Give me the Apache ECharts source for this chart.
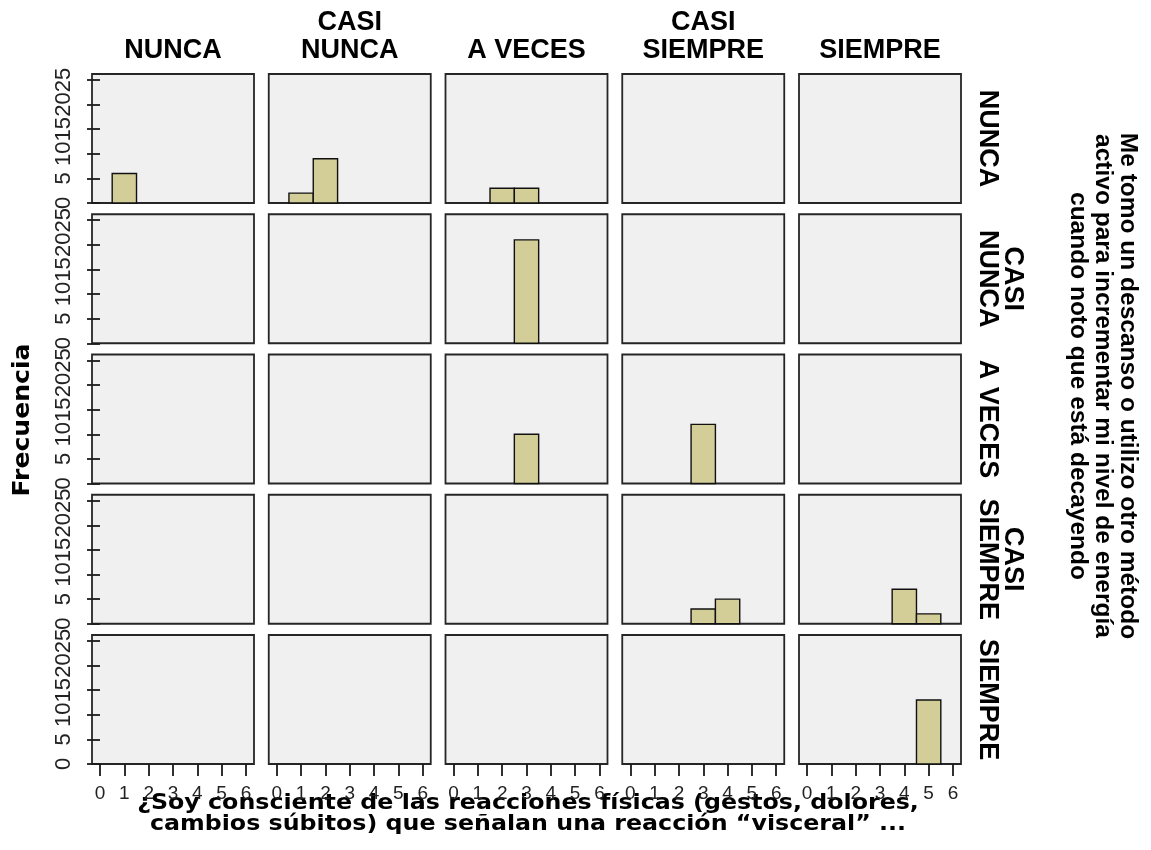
<!DOCTYPE html>
<html>
<head>
<meta charset="utf-8">
<script src="https://cdn.jsdelivr.net/npm/echarts@6/dist/echarts.min.js"></script>
<style>
  html, body { margin: 0; padding: 0; background: #fff; }
  #chart { width: 1151px; height: 850px; }
</style>
</head>
<body>
<div id="chart"></div>
<script>
// Facet categories (columns = ¿Soy consciente...?, rows = Me tomo un descanso...)
const columnLabels = ['NUNCA', 'CASI\nNUNCA', 'A VECES', 'CASI\nSIEMPRE', 'SIEMPRE'];
const rowLabels = ['NUNCA', 'CASI\nNUNCA', 'A VECES', 'CASI\nSIEMPRE', 'SIEMPRE'];

// Tick values of each panel
const xTicks = [0, 1, 2, 3, 4, 5, 6];
const yTicks = [0, 5, 10, 15, 20, 25];

// Histogram counts per row, one list of [score, frequency] per column
const rowNunca = [[[1, 6]], [[1, 2], [2, 9]], [[2, 3], [3, 3]], [], []];
const rowCasiNunca = [[], [], [[3, 21]], [], []];
const rowAVeces = [[], [], [[3, 10]], [[3, 12]], []];
const rowCasiSiempre = [[], [], [], [[3, 3], [4, 5]], [[4, 7], [5, 2]]];
const rowSiempre = [[], [], [], [], [[5, 13]]];

const yAxisName = 'Frecuencia';
const xAxisTitle = ['¿Soy consciente de las reacciones físicas (gestos, dolores,',
                    'cambios súbitos) que señalan una reacción “visceral” ...'];
const rowTitle = ['Me tomo un descanso o utilizo otro método',
                  'activo para incrementar mi nivel de energía',
                  'cuando noto que está decayendo'];

const panelRows = [rowNunca, rowCasiNunca, rowAVeces, rowCasiSiempre, rowSiempre];

// Layout of the 5x5 panel matrix
const LEFT = 92, TOP = 74, PW = 162, PH = 129, DX = 176.75, DY = 140.25;
const BAR_FILL = '#d3ce97';
const INK = '#1a1a1a';
const SANS = '"Liberation Sans", Arial, sans-serif';

const grids = [], xAxes = [], yAxes = [], series = [];
panelRows.forEach((row, r) => {
  row.forEach((cells, c) => {
    const idx = grids.length;
    const isBottom = r === panelRows.length - 1;
    const isLeft = c === 0;
    grids.push({
      left: LEFT + c * DX, top: TOP + r * DY, width: PW, height: PH,
      show: true, backgroundColor: '#f0f0f0',
      borderColor: '#262626', borderWidth: 1.8
    });
    xAxes.push({
      type: 'value', gridIndex: idx, min: -0.33, max: 6.33,
      axisLine: { show: false },
      splitLine: { show: false },
      axisTick: { show: isBottom, length: 12, inside: false,
        customValues: xTicks, lineStyle: { color: INK, width: 1.8 } },
      axisLabel: { show: isBottom, customValues: xTicks, margin: 20,
        color: '#222', fontFamily: SANS, fontSize: 19 }
    });
    yAxes.push({
      type: 'value', gridIndex: idx, min: 0, max: 26.2,
      axisLine: { show: false },
      splitLine: { show: false },
      axisTick: { show: isLeft, length: 13, inside: false,
        customValues: yTicks, lineStyle: { color: INK, width: 1.8 } },
      axisLabel: { show: isLeft, customValues: yTicks, margin: 17, rotate: 90,
        color: '#222', fontFamily: SANS, fontSize: 22 }
    });
    series.push({
      type: 'custom', xAxisIndex: idx, yAxisIndex: idx,
      data: cells,
      encode: { x: 0, y: 1 },
      renderItem: function (params, api) {
        const x = api.value(0), v = api.value(1);
        const p0 = api.coord([x - 0.5, v]);
        const p1 = api.coord([x + 0.5, 0]);
        return {
          type: 'rect',
          shape: { x: p0[0], y: p0[1], width: p1[0] - p0[0], height: p1[1] - p0[1] },
          style: { fill: BAR_FILL, stroke: '#111', lineWidth: 1.4 }
        };
      }
    });
  });
});

// Text annotations: facet headers, row labels and variable titles
const HEAD_FONT = 'bold 27px ' + SANS;
const graphics = [];
function addText(text, x, y, font, rotation, stretch) {
  graphics.push({
    type: 'text', x: x, y: y, rotation: rotation || 0, scaleX: stretch || 1,
    silent: true,
    style: { text: text, font: font, fill: '#000',
      align: 'center', verticalAlign: 'middle',
      textAlign: 'center', textVerticalAlign: 'middle' }
  });
}

columnLabels.forEach((label, c) => {
  const lines = label.split('\n');
  const cx = LEFT + c * DX + PW / 2;
  lines.forEach((ln, i) => {
    addText(ln, cx, 51 - (lines.length - 1 - i) * 28, HEAD_FONT);
  });
});

rowLabels.forEach((label, r) => {
  const lines = label.split('\n');
  const cy = TOP + r * DY + PH / 2;
  lines.forEach((ln, i) => {
    addText(ln, 987 + (lines.length - 1 - i) * 25, cy, HEAD_FONT, -Math.PI / 2);
  });
});

rowTitle.forEach((ln, i) => {
  addText(ln, 1128 - i * 25, 386, 'bold 24.5px ' + SANS, -Math.PI / 2);
});

addText(yAxisName, 23, 420, 'bold 23px "DejaVu Sans", sans-serif', Math.PI / 2, 1.09);

xAxisTitle.forEach((ln, i) => {
  addText(ln, 528, 804 + i * 21, 'bold 21px "DejaVu Sans", sans-serif', 0, 1.13);
});

const chart = echarts.init(document.getElementById('chart'), null, { renderer: 'canvas' });
chart.setOption({
  animation: false,
  backgroundColor: '#fff',
  grid: grids,
  xAxis: xAxes,
  yAxis: yAxes,
  series: series,
  graphic: graphics
});
</script>
</body>
</html>
